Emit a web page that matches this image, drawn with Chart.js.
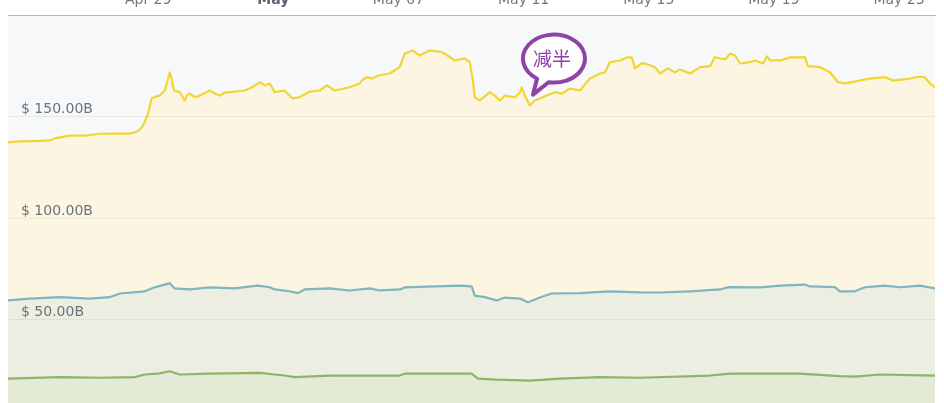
<!DOCTYPE html>
<html>
<head>
<meta charset="utf-8">
<script src="https://cdn.jsdelivr.net/npm/chart.js@4"></script>
<style>
  html, body { margin: 0; padding: 0; background: #fff; overflow: hidden; }
  #wrap { position: absolute; left: 0; top: -14px; width: 944px; height: 435px; }
</style>
</head>
<body>
<div id="wrap"><canvas id="capChart" width="944" height="435"></canvas></div>
<script>
// days counted from Apr 29 00:00, market caps in billions of USD
const btcDays = [-4.48, -4.11, -3.63, -3.15, -2.99, -2.51, -2.03, -1.55, -1.07, -0.59, -0.34, -0.18, -0.02, 0.11, 0.24, 0.37, 0.53, 0.62, 0.69, 0.75, 0.82, 1.01, 1.17, 1.26, 1.33, 1.49, 1.65, 1.97, 2.13, 2.29, 2.45, 2.61, 3.09, 3.31, 3.57, 3.73, 3.89, 4.04, 4.36, 4.62, 4.84, 5.16, 5.48, 5.71, 5.96, 6.44, 6.76, 6.86, 6.99, 7.15, 7.40, 7.72, 8.04, 8.20, 8.46, 8.68, 9.00, 9.32, 9.48, 9.80, 10.12, 10.28, 10.38, 10.44, 10.60, 10.76, 10.92, 11.08, 11.24, 11.40, 11.72, 11.88, 11.94, 12.04, 12.20, 12.36, 12.52, 12.74, 13.00, 13.23, 13.48, 13.80, 14.12, 14.44, 14.60, 14.76, 15.08, 15.33, 15.46, 15.56, 15.78, 15.97, 16.20, 16.36, 16.61, 16.84, 17.00, 17.32, 17.64, 17.96, 18.12, 18.44, 18.60, 18.76, 18.92, 19.24, 19.40, 19.65, 19.78, 19.88, 20.20, 20.52, 20.83, 20.99, 21.09, 21.47, 21.79, 22.05, 22.27, 22.49, 22.74, 23.06, 23.55, 23.81, 24.35, 24.67, 24.83, 24.99, 25.15];
const btcCaps = [137.3, 137.7, 137.9, 138.2, 139.2, 140.6, 140.6, 141.5, 141.6, 141.6, 142.6, 145.1, 150.5, 158.9, 159.8, 160.3, 162.8, 167.7, 171.7, 168.7, 162.8, 162.0, 157.9, 160.8, 161.3, 159.5, 160.3, 162.8, 161.3, 160.3, 161.8, 162.0, 162.8, 164.3, 166.9, 165.3, 166.3, 162.0, 162.8, 158.9, 159.5, 162.3, 162.8, 165.3, 162.8, 164.4, 166.3, 168.2, 169.4, 168.7, 170.3, 171.2, 174.3, 181.0, 182.5, 180.0, 182.5, 182.0, 181.0, 177.6, 178.6, 176.8, 167.7, 159.5, 157.9, 159.9, 162.0, 160.3, 157.9, 160.3, 159.5, 161.8, 164.4, 160.3, 155.4, 157.9, 158.9, 160.3, 162.0, 161.3, 163.8, 162.8, 168.7, 171.2, 171.7, 176.8, 177.6, 179.2, 179.1, 173.7, 176.3, 175.6, 174.3, 171.2, 173.7, 171.8, 173.2, 171.2, 174.3, 174.8, 179.2, 178.1, 181.0, 180.0, 176.1, 176.8, 177.6, 176.1, 179.6, 177.6, 177.6, 179.1, 179.1, 179.2, 174.8, 174.3, 171.8, 166.9, 166.3, 166.9, 167.7, 168.7, 169.4, 167.7, 168.7, 169.7, 169.2, 166.3, 164.4];

const altDays = [-4.48, -3.79, -2.83, -1.87, -1.23, -0.91, -0.11, 0.21, 0.53, 0.69, 0.85, 1.33, 1.97, 2.77, 3.50, 3.89, 4.04, 4.52, 4.78, 5.00, 5.80, 6.44, 7.08, 7.40, 8.04, 8.20, 9.16, 9.96, 10.34, 10.44, 10.76, 11.14, 11.40, 11.88, 12.14, 12.52, 12.90, 13.80, 14.76, 15.72, 16.36, 17.32, 18.28, 18.53, 19.56, 20.20, 20.99, 21.15, 21.95, 22.11, 22.59, 22.91, 23.55, 24.03, 24.67, 25.15];
const altCaps = [59.4, 60.3, 61.0, 60.3, 61.0, 62.8, 63.9, 65.9, 67.2, 67.9, 65.3, 64.8, 65.8, 65.3, 66.7, 65.9, 64.8, 63.9, 63.0, 64.8, 65.3, 64.3, 65.3, 64.3, 64.8, 65.8, 66.3, 66.7, 66.3, 61.8, 61.0, 59.4, 60.8, 60.3, 58.5, 60.8, 62.8, 63.0, 63.9, 63.4, 63.3, 63.9, 64.8, 65.9, 65.8, 66.7, 67.2, 66.3, 65.9, 63.9, 63.9, 65.9, 66.7, 65.9, 66.7, 65.3];

const ethDays = [-4.48, -2.83, -1.55, -0.43, -0.11, 0.37, 0.69, 1.01, 1.97, 3.57, 4.04, 4.37, 4.68, 5.80, 8.04, 8.20, 10.34, 10.54, 11.14, 12.20, 13.16, 14.44, 15.72, 17.96, 18.60, 20.83, 22.11, 22.59, 23.39, 25.15];
const ethCaps = [20.9, 21.6, 21.3, 21.6, 22.9, 23.5, 24.5, 22.9, 23.3, 23.7, 22.9, 22.4, 21.6, 22.4, 22.4, 23.3, 23.3, 20.9, 20.4, 19.9, 20.9, 21.6, 21.3, 22.4, 23.3, 23.3, 22.1, 21.9, 22.9, 22.4];

const tickDays = [0, 4, 8, 12, 16, 20, 24];
const tickLabels = ['Apr 29', 'May', 'May 07', 'May 11', 'May 15', 'May 19', 'May 23'];
const capTicks = [50, 100, 150];

const halvingDay = 12.30;
const halvingCap = 160.8;
const halvingText = '减半';

const toPoints = (days, caps) => days.map((d, i) => ({ x: d, y: caps[i] }));

const plotBackground = {
    id: 'plotBackground',
    beforeDraw(chart) {
        const { ctx, chartArea } = chart;
        ctx.save();
        ctx.fillStyle = '#f7f8fa';
        ctx.fillRect(chartArea.left, chartArea.top, chartArea.right - chartArea.left, chartArea.bottom - chartArea.top);
        ctx.restore();
    }
};

// speech bubble pointing at the halving
const halvingBubble = {
    id: 'halvingBubble',
    afterDraw(chart) {
        const { ctx } = chart;
        const tx = chart.scales.x.getPixelForValue(halvingDay);
        const ty = chart.scales.y.getPixelForValue(halvingCap);
        const cx = tx + 21, cy = ty - 36, rx = 31, ry = 24;
        const a1 = 123 * Math.PI / 180, a2 = 100 * Math.PI / 180;
        ctx.save();
        ctx.beginPath();
        ctx.ellipse(cx, cy, rx, ry, 0, a1, a2 + Math.PI * 2);
        ctx.lineTo(tx, ty);
        ctx.closePath();
        ctx.fillStyle = '#ffffff';
        ctx.fill();
        ctx.lineWidth = 4;
        ctx.lineJoin = 'round';
        ctx.strokeStyle = '#8e44a6';
        ctx.stroke();
        ctx.fillStyle = '#8e44a6';
        ctx.font = '19px "Noto Sans CJK SC"';
        ctx.textAlign = 'center';
        ctx.textBaseline = 'middle';
        ctx.fillText(halvingText, cx - 2, cy);
        ctx.restore();
    }
};

const capCtx = document.getElementById('capChart').getContext('2d');
const capChart = new Chart(capCtx, {
    type: 'line',
    data: {
        datasets: [{
            label: 'ETH',
            data: toPoints(ethDays, ethCaps),
            borderColor: '#8db46a',
            backgroundColor: '#e3ead5',
            fill: 'origin',
            order: 1
        }, {
            label: 'Altcoins',
            data: toPoints(altDays, altCaps),
            borderColor: '#7fb5be',
            backgroundColor: '#ebeee0',
            fill: 'origin',
            order: 2
        }, {
            label: 'BTC',
            data: toPoints(btcDays, btcCaps),
            borderColor: '#f1d534',
            backgroundColor: '#fcf5e1',
            fill: 'origin',
            order: 3
        }]
    },
    options: {
        responsive: false,
        animation: false,
        layout: { padding: { left: 8, right: 9, top: 0, bottom: 0 } },
        elements: {
            point: { radius: 0 },
            line: { borderWidth: 2.2, tension: 0, borderJoinStyle: 'round' }
        },
        plugins: { legend: { display: false }, tooltip: { enabled: false } },
        scales: {
            x: {
                type: 'linear',
                position: 'top',
                min: -4.48,
                max: 25.15,
                afterBuildTicks: (axis) => { axis.ticks = tickDays.map(v => ({ value: v })); },
                afterFit: (axis) => { axis.height = 29; axis.paddingLeft = 0; axis.paddingRight = 0; },
                grid: { display: false, drawTicks: false },
                border: { display: true, color: '#b4b8bc', width: 1 },
                ticks: {
                    autoSkip: false,
                    maxRotation: 0,
                    padding: 6,
                    callback: (value) => tickLabels[tickDays.indexOf(value)],
                    color: (ctx) => ctx.tick && ctx.tick.value === 4 ? '#59616a' : '#707880',
                    font: (ctx) => ({
                        family: 'DejaVu Sans',
                        size: 14,
                        weight: ctx.tick && ctx.tick.value === 4 ? 'bold' : 'normal'
                    })
                }
            },
            y: {
                min: 0,
                max: 200,
                afterBuildTicks: (axis) => { axis.ticks = capTicks.map(v => ({ value: v })); },
                afterFit: (axis) => { axis.width = 0; axis.paddingTop = 0; axis.paddingBottom = 0; },
                grid: { color: 'rgba(110, 110, 90, 0.10)', drawTicks: false, z: 1 },
                border: { display: false },
                ticks: {
                    z: 1,
                    autoSkip: false,
                    mirror: true,
                    padding: 13,
                    labelOffset: -7,
                    color: '#6b747d',
                    font: { family: 'DejaVu Sans', size: 14 },
                    callback: (value) => '$ ' + value.toFixed(2) + 'B'
                }
            }
        }
    },
    plugins: [plotBackground, halvingBubble]
});
</script>
</body>
</html>
